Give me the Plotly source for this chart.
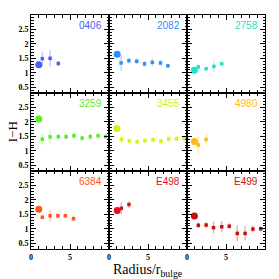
import plotly.graph_objects as go
from plotly.subplots import make_subplots

# ---- data ----
names = ["0406", "2082", "2758", "3259", "3455", "4980", "6384", "E498", "E499"]
colors = ["#4d5cf5", "#2f8fff", "#1fe3c8", "#55ee22", "#c8f80f", "#ffb81c", "#ff5522", "#dd1122", "#c81010"]

big_x = [1.0, 1.05, 0.95, 1.0, 1.0, 0.95, 1.0, 1.05, 0.95]
big_y = [1.28, 1.64, 1.09, 2.10, 1.77, 1.32, 1.68, 1.63, 1.44]

x_0406 = [1.45, 2.45, 3.5]
y_0406 = [1.49, 1.50, 1.32]
e_0406 = [0.24, 0.29, 0.08]

x_2082 = [1.55, 2.55, 3.55, 4.55, 5.55, 6.6, 7.55]
y_2082 = [1.34, 1.42, 1.40, 1.31, 1.36, 1.34, 1.24]
e_2082 = [0.27, 0.10, 0.10, 0.10, 0.13, 0.10, 0.07]

x_2758 = [1.45, 2.45, 3.45, 4.45]
y_2758 = [1.20, 1.14, 1.22, 1.31]
e_2758 = [0.10, 0.07, 0.20, 0.06]

x_3259 = [1.45, 2.45, 3.5, 4.5, 5.5, 6.55, 7.6, 8.6, 9.55]
y_3259 = [1.40, 1.48, 1.49, 1.49, 1.52, 1.44, 1.49, 1.52, 1.49]
e_3259 = [0.19, 0.23, 0.10, 0.10, 0.12, 0.10, 0.12, 0.10, 0.10]

x_3455 = [1.58, 2.6, 3.6, 4.6, 5.65, 6.65, 7.65, 8.65, 9.65]
y_3455 = [1.39, 1.34, 1.31, 1.35, 1.38, 1.33, 1.41, 1.42, 1.42]
e_3455 = [0.15, 0.08, 0.10, 0.10, 0.08, 0.10, 0.12, 0.10, 0.10]

x_4980 = [1.45, 2.45]
y_4980 = [1.20, 1.39]
e_4980 = [0.34, 0.18]

x_6384 = [1.45, 2.45, 3.45, 4.4, 5.45]
y_6384 = [1.40, 1.45, 1.45, 1.45, 1.35]
e_6384 = [0.05, 0.21, 0.10, 0.08, 0.10]

x_E498 = [1.58, 2.56]
y_E498 = [1.71, 1.84]
e_E498 = [0.20, 0.12]

x_E499 = [1.45, 2.45, 3.4, 4.45, 5.42, 6.45, 7.45, 8.45, 9.45]
y_E499 = [1.12, 1.13, 1.04, 1.07, 1.09, 0.84, 0.84, 0.99, 1.00]
e_E499 = [0.10, 0.10, 0.20, 0.20, 0.10, 0.27, 0.25, 0.12, 0.10]

small_x = [x_0406, x_2082, x_2758, x_3259, x_3455, x_4980, x_6384, x_E498, x_E499]
small_y = [y_0406, y_2082, y_2758, y_3259, y_3455, y_4980, y_6384, y_E498, y_E499]
small_e = [e_0406, e_2082, e_2758, e_3259, e_3455, e_4980, e_6384, e_E498, e_E499]

x_ticks = [0, 5]
y_ticks = [0.5, 1, 1.5, 2, 2.5]
y_ticktext = ["0.5", "1", "1.5", "2", "2.5"]

x_range = [0, 10]
y_range = [0.3, 3.0]


def rgba(hexc, a):
    h = hexc.lstrip("#")
    r, g, b = int(h[0:2], 16), int(h[2:4], 16), int(h[4:6], 16)
    return f"rgba({r},{g},{b},{a})"


fig = make_subplots(rows=3, cols=3, horizontal_spacing=0, vertical_spacing=0,
                    shared_xaxes=True, shared_yaxes=True)

for i, name in enumerate(names):
    r, c = i // 3 + 1, i % 3 + 1
    col = colors[i]
    fig.add_trace(go.Scatter(
        x=small_x[i], y=small_y[i], mode="markers",
        marker=dict(symbol="square", size=3.5, color=col, line=dict(width=0)),
        error_y=dict(type="data", array=small_e[i], visible=True,
                     color=rgba(col, 0.35), thickness=1.4, width=0),
        showlegend=False), row=r, col=c)
    fig.add_trace(go.Scatter(
        x=[big_x[i]], y=[big_y[i]], mode="markers",
        marker=dict(symbol="circle", size=7, color=col, line=dict(width=0)),
        showlegend=False), row=r, col=c)
    axn = "" if i == 0 else str(i + 1)
    fig.add_annotation(text=name, xref=f"x{axn} domain", yref=f"y{axn} domain",
                       x=0.93, y=0.86, xanchor="right", yanchor="middle",
                       showarrow=False,
                       font=dict(family="Liberation Sans", size=10, color=col))

tickfont = dict(family="Liberation Serif", size=8, color="black", weight="bold")
fig.update_xaxes(range=x_range, tickvals=x_ticks, ticks="inside", ticklen=5,
                 tickcolor="black", showline=True, linecolor="black", linewidth=1,
                 mirror="allticks", showgrid=False, zeroline=False, tickfont=tickfont,
                 automargin=False,
                 minor=dict(ticks="inside", dtick=1, tick0=0, ticklen=3, tickcolor="black", showgrid=False))
fig.update_yaxes(range=y_range, tickvals=y_ticks, ticktext=y_ticktext, ticks="inside", ticklen=5,
                 tickcolor="black", showline=True, linecolor="black", linewidth=1,
                 mirror="allticks", showgrid=False, zeroline=False, tickfont=tickfont,
                 automargin=False,
                 minor=dict(ticks="inside", dtick=0.1, tick0=0, ticklen=2.5, tickcolor="black", showgrid=False))

fig.add_annotation(text="Radius/r<sub>bulge</sub>", xref="paper", yref="paper",
                   x=0.5, y=-0.092, xanchor="center", yanchor="middle", showarrow=False,
                   font=dict(family="Liberation Serif", size=14, color="black"))
fig.add_annotation(text="I\u2212H", xref="paper", yref="paper",
                   x=-0.08, y=0.5, xanchor="center", yanchor="middle", textangle=-90,
                   showarrow=False,
                   font=dict(family="Liberation Serif", size=13, color="black"))

# page body has an 8px margin, so the figure is 8px smaller and shifted
fig.update_layout(template="none", width=271, height=271,
                  margin=dict(l=23, r=14, t=7, b=30),
                  paper_bgcolor="white", plot_bgcolor="white", showlegend=False)

fig.write_html("out.html")
